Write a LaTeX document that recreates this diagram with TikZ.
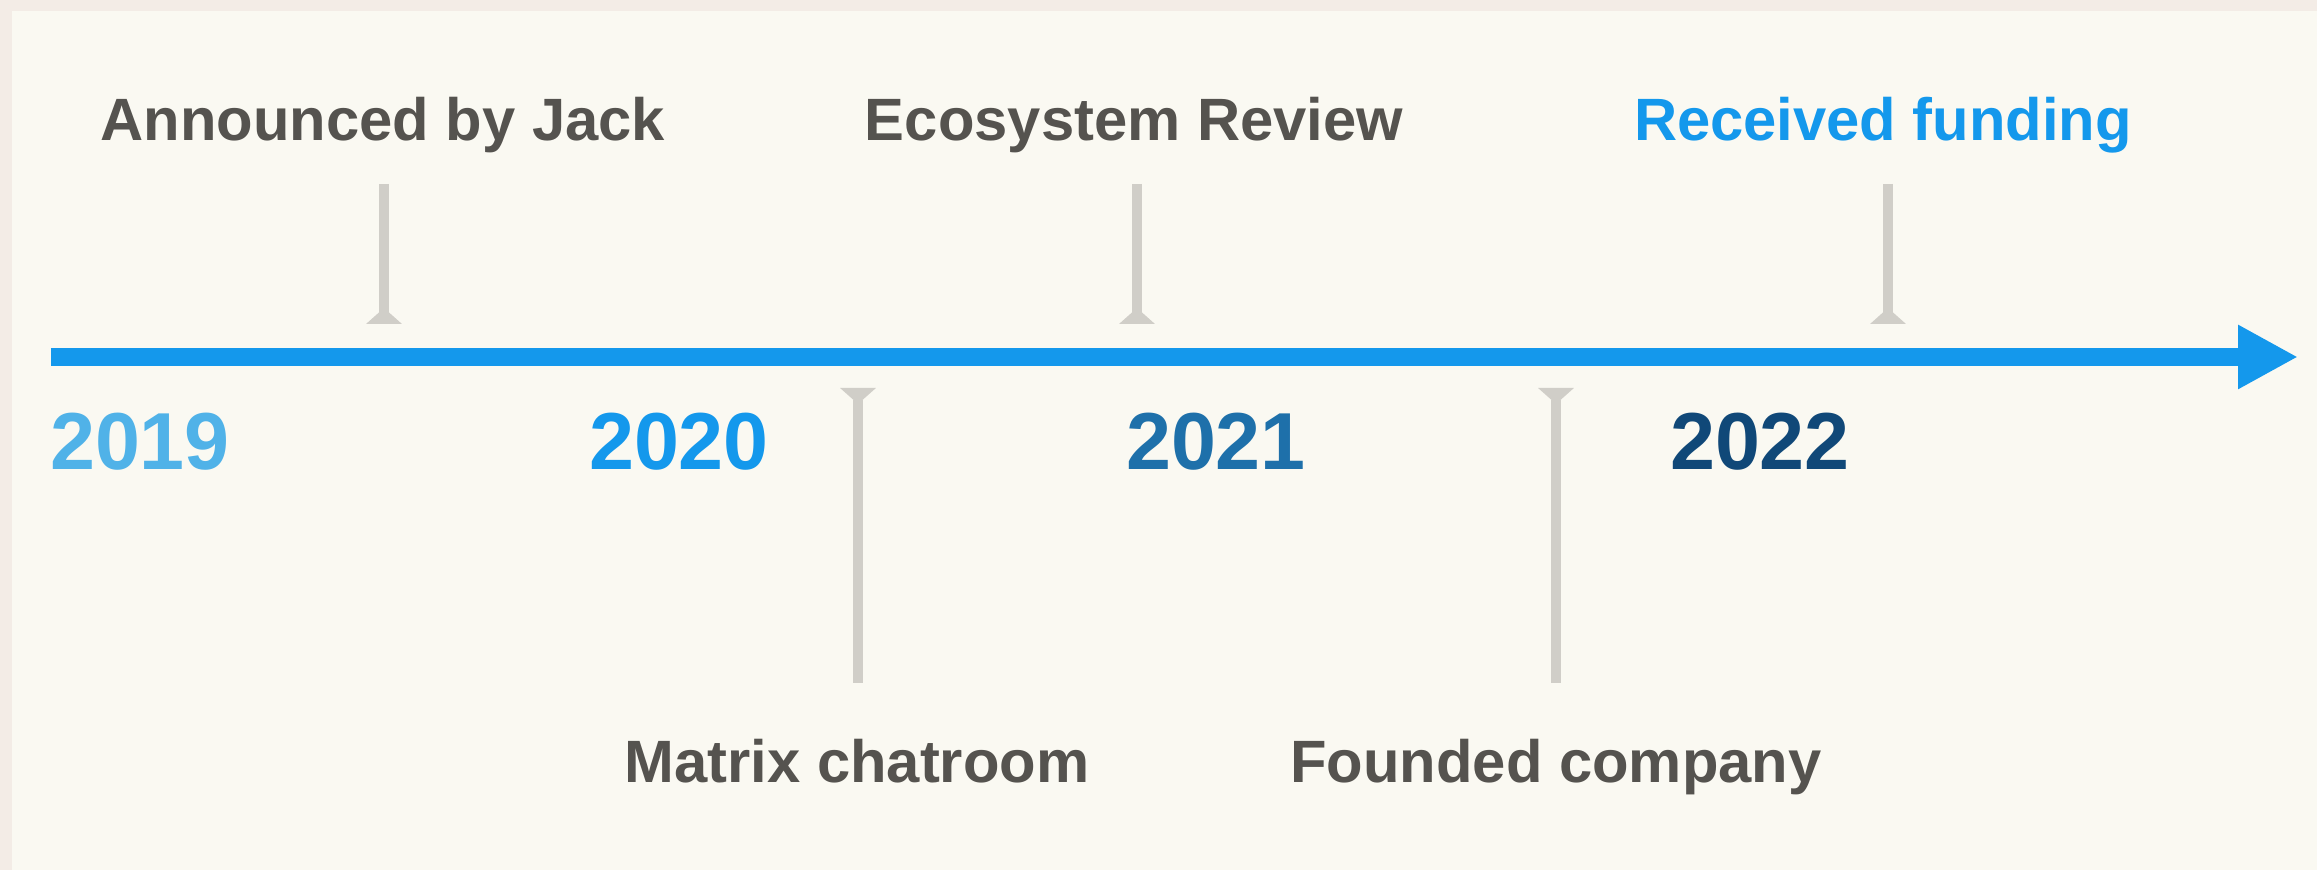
\documentclass[tikz,border=0pt]{standalone}
\usepackage{fontspec}
\setmainfont{Liberation Sans}
\usetikzlibrary{arrows.meta}
\definecolor{fondRose}{RGB}{243,236,230}
\definecolor{fondCreme}{RGB}{250,249,242}
\definecolor{bleuFrise}{RGB}{20,152,236}
\definecolor{bleuClair}{RGB}{80,178,232}
\definecolor{bleuMoyen}{RGB}{30,112,170}
\definecolor{bleuNuit}{RGB}{16,72,120}
\definecolor{grisTexte}{RGB}{85,83,79}
\definecolor{grisRepere}{RGB}{208,206,200}

\begin{document}
\begin{tikzpicture}[
    caption/.style={font=\fontsize{17}{20}\selectfont\bfseries, text=grisTexte, inner sep=0pt, anchor=base},
    year/.style={font=\fontsize{23}{27}\selectfont\bfseries, inner sep=0pt, anchor=base},
    pin/.style={grisRepere, line width=1mm, -{Triangle[reversed, length=1.6mm, width=3.5mm]}}
]
% Fond
\fill[fondRose] (0,0) rectangle (23.17,8.70);
\fill[fondCreme] (0.12,0) rectangle (23.17,8.59);

% Frise
\coordinate (debut) at (0.51,5.13);
\coordinate (fin) at (22.98,5.13);
\draw[bleuFrise, line width=1.8mm, -{Triangle[length=6mm, width=6mm]}] (debut) -- (fin);

% Annees
\node[year, text=bleuClair] (y2019) at (1.40,4.00) {2019};
\node[year, text=bleuFrise] (y2020) at (6.79,4.00) {2020};
\node[year, text=bleuMoyen] (y2021) at (12.16,4.00) {2021};
\node[year, text=bleuNuit] (y2022) at (17.60,4.00) {2022};

% Evenements au-dessus
\node[caption] (jack) at (3.83,7.29) {Announced by Jack};
\node[caption] (review) at (11.34,7.29) {Ecosystem Review};
\node[caption, text=bleuFrise] (funding) at (18.83,7.29) {Received funding};
\coordinate (jackH) at (3.84,6.86);
\coordinate (jackB) at (3.84,5.46);
\coordinate (reviewH) at (11.37,6.86);
\coordinate (reviewB) at (11.37,5.46);
\coordinate (fundingH) at (18.88,6.86);
\coordinate (fundingB) at (18.88,5.46);
\draw[pin] (jackH) -- (jackB);
\draw[pin] (reviewH) -- (reviewB);
\draw[pin] (fundingH) -- (fundingB);

% Evenements en dessous
\node[caption] (matrix) at (8.57,0.87) {Matrix chatroom};
\node[caption] (company) at (15.56,0.87) {Founded company};
\coordinate (matrixH) at (8.58,4.82);
\coordinate (matrixB) at (8.58,1.87);
\coordinate (companyH) at (15.56,4.82);
\coordinate (companyB) at (15.56,1.87);
\draw[pin] (matrixB) -- (matrixH);
\draw[pin] (companyB) -- (companyH);
\end{tikzpicture}
\end{document}
